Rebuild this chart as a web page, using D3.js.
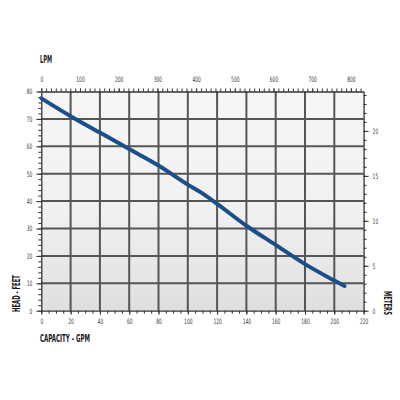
<!DOCTYPE html>
<html><head><meta charset="utf-8">
<script src="https://cdn.jsdelivr.net/npm/d3@7"></script>
<style>
html,body{margin:0;padding:0;background:#fff;}
text{font-family:"DejaVu Sans Condensed","Liberation Sans Narrow",sans-serif;}
</style></head>
<body>
<svg id="c" width="400" height="400"></svg>
<script>
// Data
const gpm  = [0, 20, 40, 60, 80, 100, 110, 120, 140, 160, 180, 200, 207];
const head = [77.5, 71, 65, 59, 53, 46, 42.8, 39, 31, 24, 17, 11, 9];
const gpmTicks = [0,20,40,60,80,100,120,140,160,180,200,220];
const feetTicks = [0,10,20,30,40,50,60,70,80];
const lpmTicks = [0,100,200,300,400,500,600,700,800];
const meterTicks = [0,5,10,15,20];

const L=41.3, R=363.6, T=91.5, B=310.7;
const svg=d3.select("#c");
const x=d3.scaleLinear().domain([0,220]).range([L,R]);
const y=d3.scaleLinear().domain([0,80]).range([B,T]);
const xl=d3.scaleLinear().domain([0,220*3.78541]).range([L,R]);
const ym=d3.scaleLinear().domain([0,80*0.3048]).range([B,T]);

const defs=svg.append("defs");
const g=defs.append("linearGradient").attr("id","bg").attr("x1",0).attr("y1",0).attr("x2",0).attr("y2",1);
g.append("stop").attr("offset","0%").attr("stop-color","#f6f6f6");
g.append("stop").attr("offset","55%").attr("stop-color","#f1f1f1");
g.append("stop").attr("offset","100%").attr("stop-color","#dfdfdf");
svg.append("rect").attr("x",L).attr("y",T).attr("width",R-L).attr("height",B-T).attr("fill","url(#bg)");

// grid
svg.append("g").selectAll("line").data(gpmTicks.filter(d=>d>0&&d<220)).join("line")
 .attr("x1",d=>x(d)).attr("x2",d=>x(d)).attr("y1",T).attr("y2",B)
 .attr("stroke","#555").attr("stroke-width",2);
svg.append("g").selectAll("line").data(feetTicks.filter(d=>d>0&&d<80)).join("line")
 .attr("y1",d=>y(d)).attr("y2",d=>y(d)).attr("x1",L).attr("x2",R)
 .attr("stroke","#555").attr("stroke-width",2);

function styleAxis(sel){
  sel.selectAll("path").attr("stroke","#333").attr("stroke-width",1.3);
  sel.selectAll("line").attr("stroke","#333").attr("stroke-width",1);
  sel.selectAll("text").attr("fill","#3a3a3a").style("font-size","7.5px")
    .attr("textLength",function(){return this.textContent.length*2.8;})
    .attr("lengthAdjust","spacingAndGlyphs");
}
function minor(axisGen, scale, vals, pos){
  return svg.append("g").attr("transform",pos).call(axisGen(scale).tickValues(vals).tickSize(3).tickFormat(""))
    .call(s=>{s.select("path").remove(); s.selectAll("line").attr("stroke","#333").attr("stroke-width",1);});
}

// bottom
minor(d3.axisBottom,x,d3.range(0,221,5),`translate(0,${B})`);
svg.append("g").attr("transform",`translate(0,${B})`)
 .call(d3.axisBottom(x).tickValues(gpmTicks).tickSize(4).tickSizeOuter(0).tickPadding(4))
 .call(styleAxis);
// left
minor(d3.axisLeft,y,d3.range(0,81,2),`translate(${L},0)`);
svg.append("g").attr("transform",`translate(${L},0)`)
 .call(d3.axisLeft(y).tickValues(feetTicks).tickSize(5).tickSizeOuter(0).tickPadding(4))
 .call(styleAxis);
// top
minor(d3.axisTop,xl,d3.range(0,833,12.5),`translate(0,${T})`);
svg.append("g").attr("transform",`translate(0,${T})`)
 .call(d3.axisTop(xl).tickValues(lpmTicks).tickSize(3).tickSizeOuter(0).tickPadding(7))
 .call(styleAxis);
// right
minor(d3.axisRight,ym,d3.range(0,24.4,1),`translate(${R},0)`);
svg.append("g").attr("transform",`translate(${R},0)`)
 .call(d3.axisRight(ym).tickValues(meterTicks).tickSize(5).tickSizeOuter(0).tickPadding(4))
 .call(styleAxis);

// curve
const pts=gpm.map((d,i)=>[d,head[i]]);
svg.append("path").datum(pts)
 .attr("d",d3.line().x(d=>x(d[0])).y(d=>y(d[1])).curve(d3.curveMonotoneX))
 .attr("fill","none").attr("stroke","#1b4f8a").attr("stroke-width",4).attr("stroke-linecap","round");

// titles
function title(t,xx,yy,rot,len){
  svg.append("text").text(t).attr("text-anchor","start")
   .attr("transform",`translate(${xx},${yy}) rotate(${rot})`)
   .attr("textLength",len).attr("lengthAdjust","spacingAndGlyphs")
   .style("font-weight","bold").style("font-size","11px").style("fill","#1a1a1a");
}
title("LPM",40,63,0,12);
title("CAPACITY - GPM",40,342,0,50);
title("HEAD - FEET",20,312,-90,37);
title("METERS",384,291,90,24);
</script>
</body></html>
